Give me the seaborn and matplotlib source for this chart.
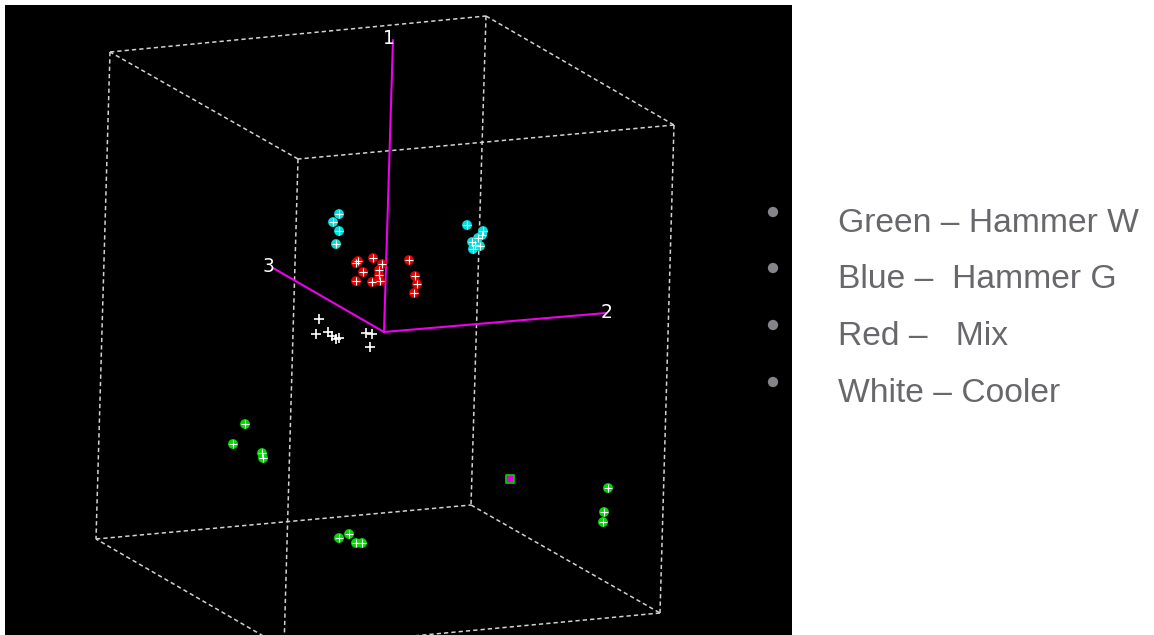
import matplotlib
matplotlib.use("Agg")
import matplotlib.pyplot as plt
import numpy as np
import pandas as pd
import seaborn as sns

sns.set_style("dark")
plt.rcParams["font.family"] = ["Liberation Sans", "DejaVu Sans"]

# Projected (screen-plane) coordinates of the score plot, one list per group
green_x = [245, 233, 262, 263, 339, 349, 356, 362, 608, 604, 603]
green_y = [424, 444, 453, 458, 538, 534, 543, 543, 488, 512, 522]

cyan_x = [339, 333, 339, 336, 467, 483, 482, 478, 472, 475, 480, 473]
cyan_y = [214, 222, 231, 244, 225, 231, 235, 238, 242, 245, 246, 249]

red_x = [356, 358, 373, 382, 379, 379, 380, 363, 356, 372, 409, 415, 417, 414]
red_y = [263, 261, 258, 264, 270, 275, 281, 272, 281, 282, 260, 276, 284, 293]

white_x = [319, 316, 328, 332, 336, 339, 366, 372, 370]
white_y = [319, 334, 332, 336, 339, 338, 333, 334, 347]

# Single highlighted sample
marked_x = [510]
marked_y = [479]

# Bounding box corners (top face A-B-C-D, bottom face E-F-G-H)
box_x = {"A": 110, "B": 486, "C": 674, "D": 298, "E": 96, "F": 471, "G": 660, "H": 284}
box_y = {"A": 52, "B": 16, "C": 125, "D": 159, "E": 539, "F": 505, "G": 613, "H": 648}
box_edges = ["AB", "BC", "CD", "DA", "EF", "FG", "GH", "HE", "AE", "BF", "CG", "DH"]

# Component axes: origin and end points
axis_origin = (384, 332)
axis_ends_x = [393, 606, 273]
axis_ends_y = [40, 313, 268]
axis_labels = ["1", "2", "3"]
axis_label_x = [389, 607, 268]
axis_label_y = [38, 313, 267]

legend_labels = ["Green \u2013 Hammer W", "Blue \u2013  Hammer G",
                 "Red \u2013   Mix", "White \u2013 Cooler"]

groups = pd.concat([
    pd.DataFrame({"x": green_x, "y": green_y, "group": "Green"}),
    pd.DataFrame({"x": cyan_x, "y": cyan_y, "group": "Blue"}),
    pd.DataFrame({"x": red_x, "y": red_y, "group": "Red"}),
    pd.DataFrame({"x": white_x, "y": white_y, "group": "White"}),
], ignore_index=True)

W, H = 1154, 635
fig = plt.figure(figsize=(W / 100, H / 100), dpi=100, facecolor="white")
ax = fig.add_axes([5 / W, 0, 787 / W, 630 / H])
ax.set_facecolor("black")
ax.set_xlim(5, 792)
ax.set_ylim(635, 5)
ax.set_axis_off()
ax.add_patch(plt.Rectangle((0, 0), 1, 1, transform=ax.transAxes,
                           color="black", zorder=0))

# Dashed bounding box
for e in box_edges:
    ax.plot([box_x[e[0]], box_x[e[1]]], [box_y[e[0]], box_y[e[1]]],
            color="#d2d2d2", lw=1.1, dashes=(2.8, 2.0), zorder=1,
            dash_capstyle="butt")

# Component axes
for ex, ey, lab, lx, ly in zip(axis_ends_x, axis_ends_y, axis_labels,
                               axis_label_x, axis_label_y):
    ax.plot([axis_origin[0], ex], [axis_origin[1], ey], color="#ee00ee",
            lw=1.5, zorder=2)
    ax.text(lx, ly, lab, color="white", fontsize=13.5, ha="center",
            va="center", family=["Liberation Sans Narrow", "DejaVu Sans"],
            zorder=5)

palette = {"Green": "#00d800", "Blue": "#00dede", "Red": "#e00000"}
colored = groups[groups["group"] != "White"]
sns.scatterplot(data=colored, x="x", y="y", hue="group", palette=palette,
                s=50, marker="o", edgecolor="none", legend=False, ax=ax,
                zorder=3)
sns.scatterplot(data=colored, x="x", y="y", color="white", marker="+",
                s=32, linewidth=0.8, legend=False, ax=ax, zorder=4)
sns.scatterplot(data=groups[groups["group"] == "White"], x="x", y="y",
                color="white", marker="+", s=55, linewidth=1.2,
                legend=False, ax=ax, zorder=4)
ax.scatter(marked_x, marked_y, marker="s", s=26, facecolor="#e000e0",
           edgecolor="#00c800", linewidth=1.3, zorder=4)

# Bulleted key on the right
key = fig.add_axes([0, 0, 1, 1], facecolor="none")
key.set_xlim(0, W)
key.set_ylim(H, 0)
key.set_axis_off()
bullet_y = [212, 268, 325, 382]
text_y = [232, 288, 345, 402]
key.scatter([773] * len(bullet_y), bullet_y, s=55, color="#858589",
            edgecolor="none", zorder=6)
for ty, lab in zip(text_y, legend_labels):
    key.text(838, ty, lab, fontsize=24.2, color="#68686c", ha="left",
             va="baseline", family=["Liberation Sans", "DejaVu Sans"])

fig.savefig("out.png", dpi=100, facecolor="white")
